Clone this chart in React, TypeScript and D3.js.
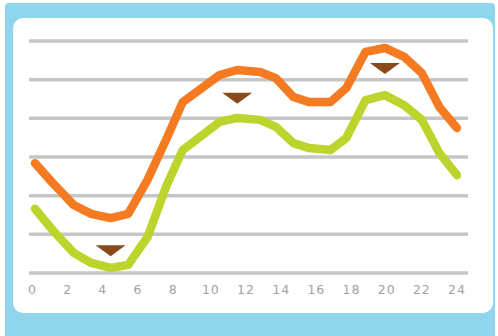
import React from "react";
import * as d3 from "d3";

// Hour positions of the plotted readings (shared by both series)
const hours = [0, 1, 2.2, 3.2, 4.3, 5.3, 6.4, 7.5, 8.4, 10.5, 11.5, 12.8, 13.7, 14.7, 15.6, 16.8, 17.7, 18.8, 19.9, 21.0, 22.0, 23.0, 24];

// Upper series (orange)
const upperValues = [28.4, 23.3, 17.6, 15.3, 14.2, 15.3, 24.1, 34.9, 44.2, 51.2, 52.5, 52.0, 50.4, 45.5, 44.2, 44.2, 47.8, 57.2, 58.2, 55.9, 51.7, 42.9, 37.5];

// Lower series (green)
const lowerValues = [16.6, 11.1, 5.2, 2.6, 1.3, 2.1, 9.3, 22.8, 31.8, 39.1, 40.1, 39.6, 37.8, 33.6, 32.3, 31.8, 34.9, 44.7, 46.0, 43.4, 39.6, 31.0, 25.3];

// Downward markers between the curves at the turning points
const markerHours = [4.3, 11.5, 19.9];
const markerValues = [7.2, 46.6, 54.3];

// Axis ticks
const xTicks = [0, 2, 4, 6, 8, 10, 12, 14, 16, 18, 20, 22, 24];
const gridValues = [0, 10, 20, 30, 40, 50, 60];

const W = 498;
const H = 336;

export default function App() {
  const x = d3.scaleLinear().domain([0, 24]).range([35, 457]);
  const y = d3.scaleLinear().domain([0, 60]).range([273, 41]);

  const line = d3
    .line<number>()
    .x((_, i) => x(hours[i]))
    .y((d) => y(d))
    .curve(d3.curveLinear);

  const triW = 30;
  const triH = 11;

  return (
    <svg
      width={W}
      height={H}
      style={{ position: "absolute", left: 0, top: 0, display: "block" }}
    >
      <rect x={0} y={0} width={W} height={H} fill="#ffffff" />
      <rect x={5} y={3} width={490} height={345} rx={4} fill="#8fd5ec" />
      <rect x={13} y={18} width={480} height={295} rx={10} fill="#ffffff" />

      {gridValues.map((v) => (
        <line
          key={v}
          x1={29}
          x2={468}
          y1={y(v)}
          y2={y(v)}
          stroke="#c6c6c8"
          strokeWidth={3.5}
        />
      ))}

      <path
        d={line(lowerValues) ?? ""}
        fill="none"
        stroke="#bcd42c"
        strokeWidth={8.5}
        strokeLinejoin="round"
        strokeLinecap="round"
      />
      <path
        d={line(upperValues) ?? ""}
        fill="none"
        stroke="#f47b22"
        strokeWidth={8.5}
        strokeLinejoin="round"
        strokeLinecap="round"
      />

      {markerHours.map((h, i) => {
        const cx = x(h);
        const top = y(markerValues[i]);
        return (
          <path
            key={h}
            d={`M${cx - triW / 2},${top}L${cx + triW / 2},${top}L${cx},${top + triH}Z`}
            fill="#8b4a1e"
          />
        );
      })}

      {xTicks.map((t) => (
        <text
          key={t}
          x={x(t) - (t < 10 ? 2.5 : 0)}
          y={294}
          textAnchor="middle"
          fontFamily="DejaVu Sans, sans-serif"
          fontSize={12.5}
          letterSpacing={1}
          fill="#a2a2a2"
        >
          {t}
        </text>
      ))}
    </svg>
  );
}
